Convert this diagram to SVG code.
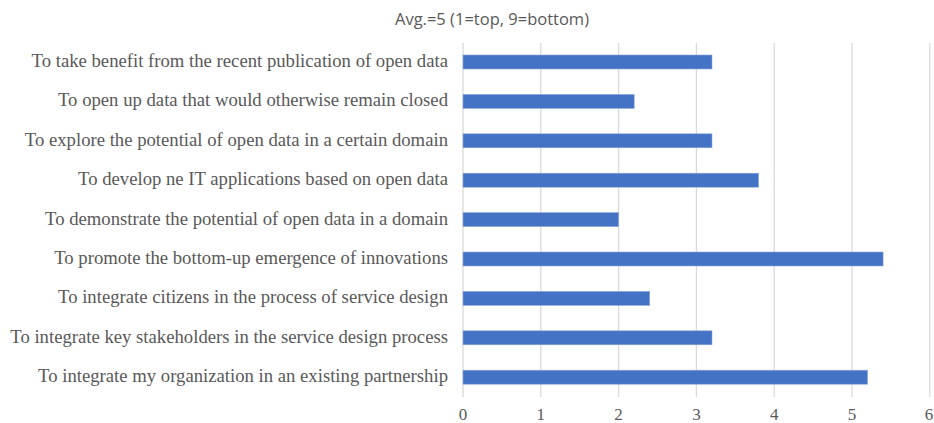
<svg xmlns="http://www.w3.org/2000/svg" width="934" height="423" viewBox="0 0 934 423">
<style>
.grid{stroke:#d9d9d9;stroke-width:1.3}
.bar{fill:#4472c4;stroke:#8faadc;stroke-width:0.6}
.cat{font-family:"Liberation Serif",serif;font-size:18.7px;fill:#595959;text-anchor:end}
.tick{font-family:"Liberation Serif",serif;font-size:17px;fill:#595959;text-anchor:middle}
.title{font-family:"Open Sans","Liberation Sans",sans-serif;font-size:16.5px;fill:#595959;text-anchor:middle}
</style>
<rect width="934" height="423" fill="#fff"/>
<text class="title" x="492" y="25">Avg.=5 (1=top, 9=bottom)</text>
<g id="grid">
<line class="grid" x1="463" y1="43" x2="463" y2="397"/>
<line class="grid" x1="540.8" y1="43" x2="540.8" y2="397"/>
<line class="grid" x1="618.6" y1="43" x2="618.6" y2="397"/>
<line class="grid" x1="696.4" y1="43" x2="696.4" y2="397"/>
<line class="grid" x1="774.2" y1="43" x2="774.2" y2="397"/>
<line class="grid" x1="852" y1="43" x2="852" y2="397"/>
<line class="grid" x1="929.8" y1="43" x2="929.8" y2="397"/>
</g>
<g id="ticks">
<text class="tick" x="463" y="419.5">0</text>
<text class="tick" x="540.8" y="419.5">1</text>
<text class="tick" x="618.6" y="419.5">2</text>
<text class="tick" x="696.4" y="419.5">3</text>
<text class="tick" x="774.2" y="419.5">4</text>
<text class="tick" x="852" y="419.5">5</text>
<text class="tick" x="929" y="419.5">6</text>
</g>
<g id="row1"><text class="cat" x="448" y="67">To take benefit from the recent publication of open data</text><rect class="bar" x="463" y="55" width="249" height="14"/></g>
<g id="row2"><text class="cat" x="448" y="106.4">To open up data that would otherwise remain closed</text><rect class="bar" x="463" y="94.4" width="171.2" height="14"/></g>
<g id="row3"><text class="cat" x="448" y="145.8">To explore the potential of open data in a certain domain</text><rect class="bar" x="463" y="133.8" width="249" height="14"/></g>
<g id="row4"><text class="cat" x="448" y="185.2">To develop ne IT applications based on open data</text><rect class="bar" x="463" y="173.2" width="295.6" height="14"/></g>
<g id="row5"><text class="cat" x="448" y="224.6">To demonstrate the potential of open data in a domain</text><rect class="bar" x="463" y="212.6" width="155.6" height="14"/></g>
<g id="row6"><text class="cat" x="448" y="264">To promote the bottom-up emergence of innovations</text><rect class="bar" x="463" y="252" width="420.1" height="14"/></g>
<g id="row7"><text class="cat" x="448" y="303.4">To integrate citizens in the process of service design</text><rect class="bar" x="463" y="291.4" width="186.7" height="14"/></g>
<g id="row8"><text class="cat" x="448" y="342.8">To integrate key stakeholders in the service design process</text><rect class="bar" x="463" y="330.8" width="249" height="14"/></g>
<g id="row9"><text class="cat" x="448" y="382.2">To integrate my organization in an existing partnership</text><rect class="bar" x="463" y="370.2" width="404.6" height="14"/></g>
</svg>
